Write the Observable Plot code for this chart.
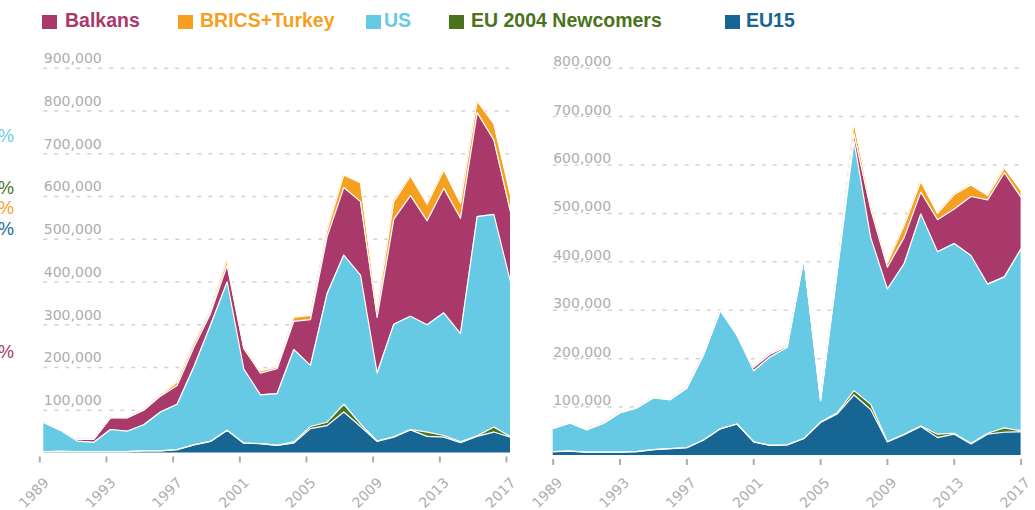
<!DOCTYPE html>
<html><head><meta charset="utf-8">
<script src="https://cdn.jsdelivr.net/npm/d3@7"></script>
<script src="https://cdn.jsdelivr.net/npm/@observablehq/plot@0.6"></script>
<style>
body{margin:0;width:1035px;height:510px;overflow:hidden;background:#fff;position:relative;font-family:"Liberation Sans",Arial,sans-serif}
.leg{position:absolute;top:10.5px;font-weight:bold;font-size:19.5px;line-height:19.5px;white-space:nowrap}
.sw{position:absolute;top:15px;width:15px;height:14px}
.pct{position:absolute;left:-86px;width:100px;text-align:right;font-size:18px;line-height:18px}
#left{position:absolute;left:0;top:45px}
#right{position:absolute;left:520px;top:45px}
</style></head><body>
<div id="legend"></div>
<div id="pcts"></div>
<div id="left"></div>
<div id="right"></div>
<script>
// ---- data (values in thousands) ----
const years = d3.range(1989, 2018);
const seriesNames = ["Balkans", "BRICS+Turkey", "US", "EU 2004 Newcomers", "EU15"];
const seriesColors = ["#a8396a", "#f5a01e", "#67cae4", "#4b721d", "#176593"];
const stackOrder = ["EU15", "EU 2004 Newcomers", "US", "Balkans", "BRICS+Turkey"];
const xTicks = [1989, 1993, 1997, 2001, 2005, 2009, 2013, 2017];
const yTicksLeft = [100000, 200000, 300000, 400000, 500000, 600000, 700000, 800000, 900000];
const yTicksRight = [100000, 200000, 300000, 400000, 500000, 600000, 700000, 800000];

const eu15L    = [3,4,3,3,3,3,5,5,8,19,27,53,23,22,18,23,57,64,96,62,27,37,54,39,37,24,39,49,37];
const eu2004L  = [0,0,0,0,0,0,0,0,0,0,0,0,0,0,0,3,5,8,18,6,1,1,1,10,4,2,1,12,1];
const usL      = [68,49,25,22,52,48,61,91,106,182,272,347,173,114,121,216,143,301,349,348,159,263,265,251,287,253,513,497,362];
const balkansL = [1,2,4,7,27,31,34,37,44,46,27,39,48,51,58,66,107,133,158,172,130,246,282,243,291,270,243,174,164];
const bricsL   = [0.3,0.3,0.3,0.3,0.5,0.5,1,2,8,9,6,14,6,5,4,9,10,15,29,44,19,41,46,39,43,35,27,38,39];

const eu15R    = [8,9,7,7,7,8,12,14,16,32,55,65,28,21,22,35,68,86,125,95,28,43,60,37,44,24,44,48,49];
const eu2004R  = [0,0,0,0,0,0,0,0,0,0,0,0,0,0,0,0,1,2,9,11,1,1,1,7,2,1,2,9,2];
const usR      = [48,58,46,59,81,90,107,101,123,176,244,183,147,183,201,371,44,292,516,344,315,352,438,377,392,388,308,312,376];
const balkansR = [0.5,0.5,1,1,2,1,1,1,2,1,1,1,7,6,3,1,2,3,15,59,45,54,45,66,71,122,174,215,106];
const bricsR   = [0.3,0.3,0.3,0.3,0.5,0.3,0.3,0.3,0.5,0.3,0.3,0.5,1,1,1,0.5,1,1,23,11,9,25,22,13,30,24,9,10,14];

const pctColors = ["#6ccbe8", "#4b721d", "#f5a01e", "#176593", "#a8396a"];

// ---- build tables ----
function rowsFrom(map) {
  const rows = [];
  for (const [name, arr] of Object.entries(map)) {
    arr.forEach((v, i) => rows.push({year: years[i], series: name, value: v * 1000}));
  }
  return rows;
}
const rowsLeft = rowsFrom({"EU15": eu15L, "EU 2004 Newcomers": eu2004L, "US": usL, "Balkans": balkansL, "BRICS+Turkey": bricsL});
const rowsRight = rowsFrom({"EU15": eu15R, "EU 2004 Newcomers": eu2004R, "US": usR, "Balkans": balkansR, "BRICS+Turkey": bricsR});

// ---- legend ----
const legPos = [[42, 65], [178, 200], [366, 384], [449, 471], [725, 746]];
const legend = document.getElementById("legend");
seriesNames.forEach((name, i) => {
  const sw = document.createElement("div");
  sw.className = "sw"; sw.style.left = legPos[i][0] + "px"; sw.style.background = seriesColors[i];
  legend.appendChild(sw);
  const t = document.createElement("div");
  t.className = "leg"; t.style.left = legPos[i][1] + "px"; t.style.color = seriesColors[i];
  t.textContent = name;
  legend.appendChild(t);
});
const pctTops = [127, 179, 199, 220, 343];
const pcts = document.getElementById("pcts");
pctColors.forEach((c, i) => {
  const s = document.createElement("div");
  s.className = "pct"; s.style.top = pctTops[i] + "px"; s.style.color = c; s.textContent = "%";
  pcts.appendChild(s);
});

// ---- panels ----
function panel(rows, o) {
  return Plot.plot({
    width: o.width, height: 465,
    marginLeft: o.ml, marginRight: o.mr, marginTop: 22.7, marginBottom: o.mb,
    style: {fontFamily: "DejaVu Sans, sans-serif", fontSize: "14px", background: "transparent", overflow: "visible"},
    x: {domain: [1989, 2017]},
    y: {domain: [0, o.yMax], axis: null},
    color: {domain: seriesNames, range: seriesColors},
    marks: [
      Plot.gridY(o.yTicks, {stroke: "#d2d2d2", strokeOpacity: 1, strokeWidth: 1.5, strokeDasharray: "4,7"}),
      Plot.areaY(rows, {x: "year", y: "value", z: "series", fill: "series", order: stackOrder}),
      Plot.lineY(rows, Plot.stackY2({x: "year", y: "value", z: "series", order: stackOrder, stroke: "white", strokeWidth: 1.2})),
      Plot.text(o.yTicks, {y: d => d, frameAnchor: "left", text: d => d3.format(",")(d), textAnchor: "start", lineAnchor: "bottom", dy: o.labelDy, fill: "#adadad"}),
      Plot.axisX(xTicks, {text: null, label: null, tickSize: 6, color: "#adadad", strokeWidth: 2, dy: 4, dx: o.axisDx}),
      Plot.text(xTicks, {x: d => d, frameAnchor: "bottom", text: d => String(d), rotate: -45, textAnchor: "end", lineAnchor: "top", dx: o.axisDx + 3, dy: o.yearDy, fill: "#adadad"})
    ]
  });
}
document.getElementById("left").appendChild(panel(rowsLeft, {width: 520, ml: 43.3, mr: 10, mb: 57.5, yMax: 900000, yTicks: yTicksLeft, labelDy: -5, axisDx: -4, yearDy: 23.5}));
document.getElementById("right").appendChild(panel(rowsRight, {width: 515, ml: 32.7, mr: 14.4, mb: 55, yMax: 800000, yTicks: yTicksRight, labelDy: -2, axisDx: 0, yearDy: 21}));
</script>
</body></html>
